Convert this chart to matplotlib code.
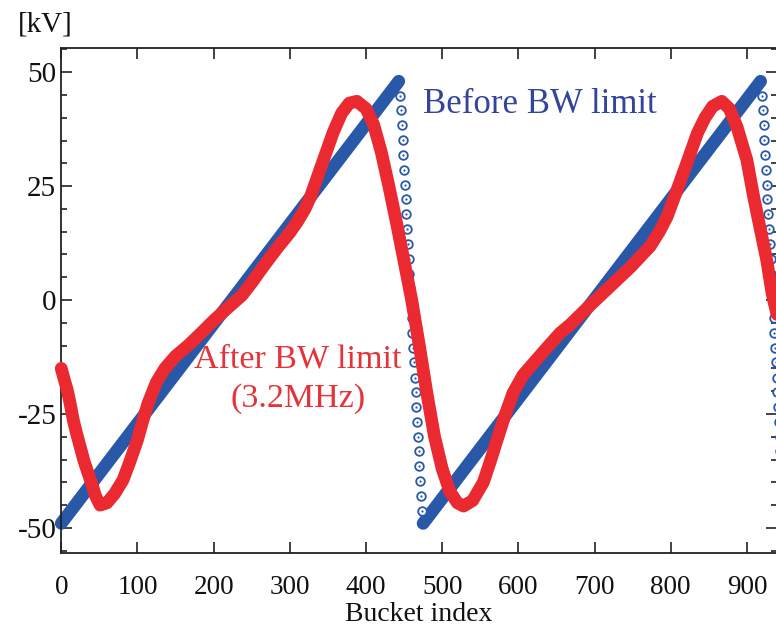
import numpy as np
import matplotlib
matplotlib.use("Agg")
import matplotlib.pyplot as plt
from matplotlib.ticker import MultipleLocator

plt.rcParams['font.family'] = ['Liberation Serif', 'DejaVu Serif']
plt.rcParams['axes.unicode_minus'] = False

# ---- data ----
# "Before BW limit" sawtooth: linear ramps + one-sample-per-bucket fall
blue_ramp1_b = [0, 443]
blue_ramp1_v = [-49.0, 48.0]
blue_ramp2_b = [475, 918]
blue_ramp2_v = [-49.0, 48.0]
blue_drop_v = [44.8, 41.6, 38.3, 35.1, 31.8, 28.6, 25.3, 22.1, 18.8, 15.6,
               12.3, 9.1, 5.8, 2.6, -0.7, -4.0, -7.2, -10.5, -13.7, -17.0,
               -20.2, -23.5, -26.7, -30.0, -33.2, -36.5, -39.7, -43.0, -46.2]
blue_drop1_b = list(range(445, 474))
blue_drop2_b = list(range(920, 949))

# "After BW limit (3.2MHz)"
red_b = [0, 4, 8, 12, 16, 20, 25, 30, 35, 40, 45, 51, 60, 70, 81, 90, 100, 107,
         114, 125, 136, 150, 167, 185, 200, 220, 237, 250, 265, 283, 300, 310,
         320, 327, 340, 357, 368, 378, 388, 400, 410, 420, 430, 440, 450, 460,
         470, 480, 490, 500, 510, 520,
         528, 540, 554, 563, 572, 582, 593, 606, 620, 640, 655, 668, 690, 711,
         730, 747, 760, 773, 785, 795, 808, 821, 835, 845, 855, 867, 877, 887,
         900, 908, 917, 926, 933, 940, 948]
red_v = [-15.0, -17.5, -19.8, -23.0, -26.5, -29.2, -32.3, -35.4, -37.9, -40.3,
         -43.0, -45.0, -44.5, -42.5, -39.5, -35.5, -30.7, -26.5, -22.6, -18.0,
         -15.0, -12.3, -9.9, -7.0, -4.5, -1.5, 1.0, 3.8, 7.3, 11.3, 14.8, 17.2,
         20.0, 22.6, 28.8, 36.8, 41.0, 43.2, 43.6, 42.0, 38.5, 32.5, 25.0, 17.0,
         8.5, 0.0, -10.0, -20.5, -30.0, -37.0, -42.0, -44.5,
         -45.2, -44.0, -40.0, -35.5, -30.7, -25.5, -20.4, -16.5, -13.8, -10.0,
         -7.2, -5.4, -1.8, 1.5, 4.5, 7.2, 9.5, 11.8, 15.0, 18.2, 24.0, 30.0,
         36.6, 40.0, 42.5, 43.6, 42.0, 38.0, 30.7, 23.4, 16.0, 8.8, 1.5, -3.5,
         -11.5]

x_ticks = [0, 100, 200, 300, 400, 500, 600, 700, 800, 900]
y_ticks = [-50, -25, 0, 25, 50]

BLUE = '#2a58a8'
RED = '#ea2a30'

fig = plt.figure(figsize=(7.76, 6.26), dpi=100)
ax = fig.add_axes([60.5 / 776, 73 / 626, (777 - 60.5) / 776, (553 - 48) / 626])

lw = 9.2
for bb, vv in [(blue_ramp1_b, blue_ramp1_v), (blue_ramp2_b, blue_ramp2_v)]:
    ax.plot(bb, vv, color=BLUE, lw=lw, solid_capstyle='round', zorder=2, clip_on=False)
for bb in [blue_drop1_b, blue_drop2_b]:
    ax.plot(bb, blue_drop_v, ls='none', marker='o', ms=6.2, mfc='white', mec=BLUE,
            mew=1.3, zorder=2, clip_on=False)
    ax.plot(bb, blue_drop_v, ls='none', marker='o', ms=1.6, mfc=BLUE, mec=BLUE,
            mew=0, zorder=2.1, clip_on=False)

ax.plot(red_b, red_v, color=RED, lw=lw, solid_capstyle='round',
        solid_joinstyle='round', zorder=3, clip_on=False)

ax.set_xlim(-1, 939.5)
ax.set_ylim(-55.5, 55.3)
ax.set_xticks(x_ticks)
ax.set_yticks(y_ticks)
ax.set_xticklabels([str(t) for t in x_ticks])
ax.set_yticklabels([str(t) for t in y_ticks])
ax.yaxis.set_minor_locator(MultipleLocator(5))

for s in ax.spines.values():
    s.set_linewidth(1.3)
    s.set_color('#222222')
ax.tick_params(which='both', direction='in', top=True, right=True,
               width=1.2, colors='#222222', labelcolor='#111111')
ax.tick_params(axis='x', labelsize=19.5, pad=16)
ax.tick_params(axis='y', labelsize=21, pad=3)
ax.tick_params(which='major', length=8)
ax.tick_params(which='minor', length=4)

fig.text(0.5 * (60.5 + 777) / 776, 1 - 621 / 626, 'Bucket index',
         fontsize=20, color='#111111', ha='center', va='baseline')
fig.text(18 / 776, 1 - 32 / 626, '[kV]', fontsize=21, color='#111111',
         ha='left', va='baseline')

ax.text(475, 41.0, 'Before BW limit', fontsize=25, color='#34449a',
        ha='left', va='baseline', zorder=5)
ax.text(311, -14.9, 'After BW limit', fontsize=24.5, color='#e5333b',
        ha='center', va='baseline', zorder=5)
ax.text(311, -23.5, '(3.2MHz)', fontsize=24.5, color='#e5333b',
        ha='center', va='baseline', zorder=5)

fig.savefig('out.png', dpi=100)
